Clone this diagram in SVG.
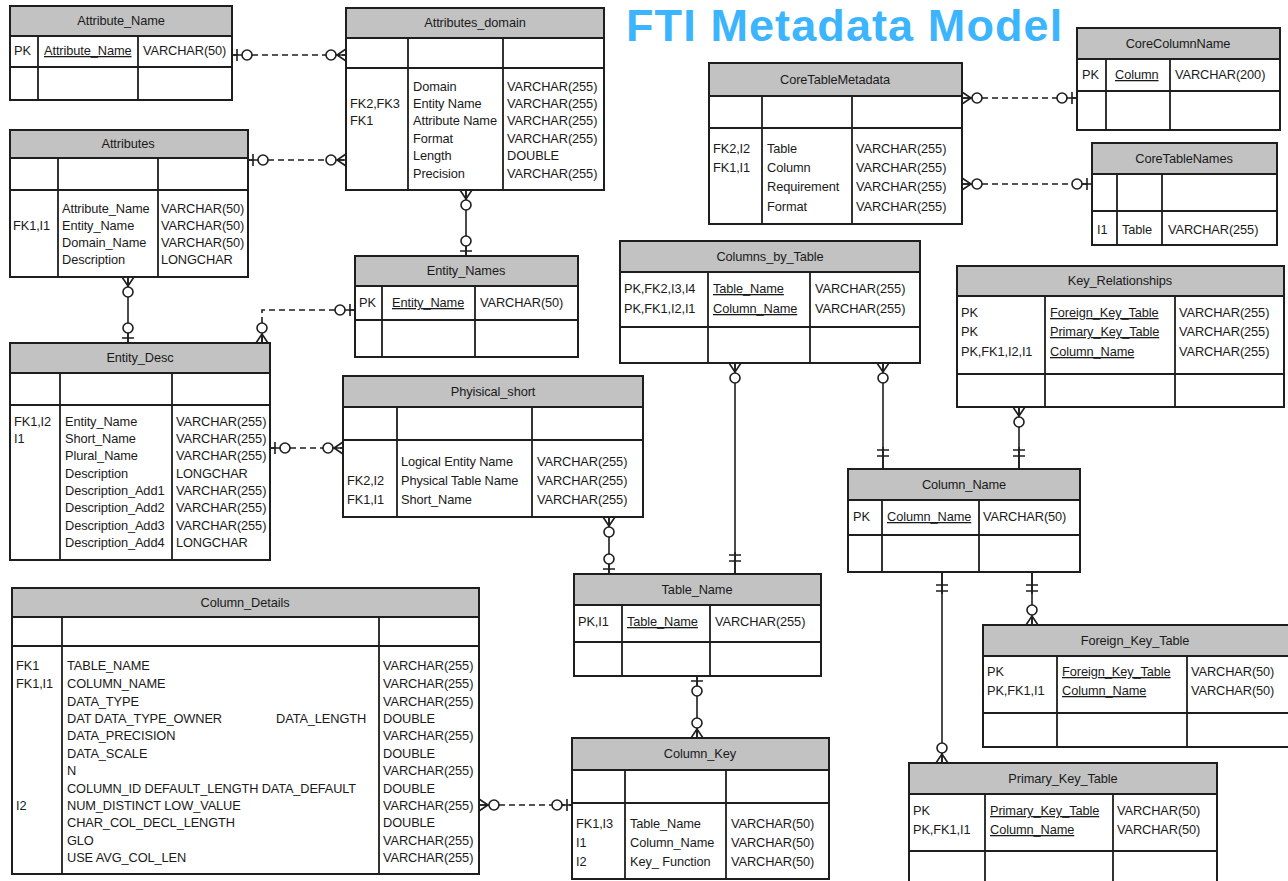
<svg xmlns="http://www.w3.org/2000/svg" xmlns:xlink="http://www.w3.org/1999/xlink" width="1288" height="881" viewBox="0 0 1288 881">
<style>
.bx{fill:#fff;stroke:#1e1e1e;stroke-width:2}
.hd{fill:#c2c2c2;stroke:#1e1e1e;stroke-width:2}
.ln{stroke:#1e1e1e;stroke-width:1.8;fill:none}
text{font-family:"Liberation Sans",Arial,sans-serif;font-size:12.8px;letter-spacing:-0.1px;fill:#1a1a1a}
.ti{text-anchor:middle}
.u{text-decoration:underline}
.c{stroke:#1e1e1e;stroke-width:1.6;fill:none}
.d{stroke-dasharray:6 4}
.title{font-family:"Liberation Sans",Arial,sans-serif;font-weight:bold;font-size:45px;letter-spacing:1.1px;fill:#3cb4fe}
</style>
<defs>
<g id="zo"><path class="c" d="M0,0H15M5,-6V6"/><circle cx="15" cy="0" r="5" fill="#fff" stroke="#1e1e1e" stroke-width="1.6"/></g>
<g id="zm"><path class="c" d="M0,-6L9,0L0,6M0,0H15"/><circle cx="15" cy="0" r="5" fill="#fff" stroke="#1e1e1e" stroke-width="1.6"/></g>
<g id="oo"><path class="c" d="M0,0H22M13,-6V6M19,-6V6"/></g>
</defs>
<rect width="1288" height="881" fill="#fff"/>

<g id="connectors">
<path class="c d" d="M232,55H346"/>
<use href="#zo" transform="translate(232,55)"/>
<use href="#zm" transform="translate(346,55) rotate(180)"/>
<path class="c d" d="M248,160H346"/>
<use href="#zo" transform="translate(248,160)"/>
<use href="#zm" transform="translate(346,160) rotate(180)"/>
<path class="c" d="M466,190V256"/>
<use href="#zm" transform="translate(466,190) rotate(90)"/>
<use href="#zo" transform="translate(466,256) rotate(-90)"/>
<path class="c" d="M128,277V343"/>
<use href="#zm" transform="translate(128,277) rotate(90)"/>
<use href="#zo" transform="translate(128,343) rotate(-90)"/>
<path class="c d" d="M355,310H262V343"/>
<use href="#zo" transform="translate(355,310) rotate(180)"/>
<use href="#zm" transform="translate(262,343) rotate(-90)"/>
<path class="c d" d="M270,448H343"/>
<use href="#zo" transform="translate(270,448)"/>
<use href="#zm" transform="translate(343,448) rotate(180)"/>
<path class="c d" d="M962,98H1077"/>
<use href="#zm" transform="translate(962,98)"/>
<use href="#zo" transform="translate(1077,98) rotate(180)"/>
<path class="c d" d="M962,184H1092"/>
<use href="#zm" transform="translate(962,184)"/>
<use href="#zo" transform="translate(1092,184) rotate(180)"/>
<path class="c" d="M735,363V574"/>
<use href="#zm" transform="translate(735,363) rotate(90)"/>
<use href="#oo" transform="translate(735,574) rotate(-90)"/>
<path class="c" d="M883,363V469"/>
<use href="#zm" transform="translate(883,363) rotate(90)"/>
<use href="#oo" transform="translate(883,469) rotate(-90)"/>
<path class="c" d="M1019,407V469"/>
<use href="#zm" transform="translate(1019,407) rotate(90)"/>
<use href="#oo" transform="translate(1019,469) rotate(-90)"/>
<path class="c" d="M609,517V574"/>
<use href="#zm" transform="translate(609,517) rotate(90)"/>
<use href="#zo" transform="translate(609,574) rotate(-90)"/>
<path class="c" d="M697,676V738"/>
<use href="#zo" transform="translate(697,676) rotate(90)"/>
<use href="#zm" transform="translate(697,738) rotate(-90)"/>
<path class="c d" d="M479,805H572"/>
<use href="#zm" transform="translate(479,805)"/>
<use href="#zo" transform="translate(572,805) rotate(180)"/>
<path class="c" d="M1032,572V625"/>
<use href="#oo" transform="translate(1032,572) rotate(90)"/>
<use href="#zm" transform="translate(1032,625) rotate(-90)"/>
<path class="c" d="M942,572V763"/>
<use href="#oo" transform="translate(942,572) rotate(90)"/>
<use href="#zm" transform="translate(942,763) rotate(-90)"/>
</g>

<g id="title">
<rect x="620" y="0" width="450" height="55" fill="#fff"/>
<text class="title" x="626" y="41">FTI Metadata Model</text>
</g>

<g id="Attribute_Name">
<rect class="bx" x="10" y="6" width="222" height="94"/>
<rect class="hd" x="10" y="6" width="222" height="30"/>
<path class="ln" d="M10,67H232M38,36V100M138,36V100"/>
<text class="ti" x="121" y="25">Attribute_Name</text>
<text x="14" y="55">PK</text>
<text class="u" x="44" y="55">Attribute_Name</text>
<text x="143" y="55">VARCHAR(50)</text>
</g>

<g id="Attributes_domain">
<rect class="bx" x="346" y="8" width="258" height="182"/>
<rect class="hd" x="346" y="8" width="258" height="30"/>
<path class="ln" d="M346,68H604M408,38V190M503,38V190"/>
<text class="ti" x="475" y="27">Attributes_domain</text>
<text x="350" y="108">FK2,FK3</text>
<text x="350" y="125">FK1</text>
<text x="413" y="91">Domain</text>
<text x="413" y="108">Entity Name</text>
<text x="413" y="125">Attribute Name</text>
<text x="413" y="143">Format</text>
<text x="413" y="160">Length</text>
<text x="413" y="178">Precision</text>
<text x="507" y="91">VARCHAR(255)</text>
<text x="507" y="108">VARCHAR(255)</text>
<text x="507" y="125">VARCHAR(255)</text>
<text x="507" y="143">VARCHAR(255)</text>
<text x="507" y="160">DOUBLE</text>
<text x="507" y="178">VARCHAR(255)</text>
</g>

<g id="Attributes">
<rect class="bx" x="10" y="130" width="238" height="147"/>
<rect class="hd" x="10" y="130" width="238" height="28"/>
<path class="ln" d="M10,190H248M58,158V277M158,158V277"/>
<text class="ti" x="128" y="148">Attributes</text>
<text x="13" y="230">FK1,I1</text>
<text x="62" y="213">Attribute_Name</text>
<text x="62" y="230">Entity_Name</text>
<text x="62" y="247">Domain_Name</text>
<text x="62" y="264">Description</text>
<text x="161" y="213">VARCHAR(50)</text>
<text x="161" y="230">VARCHAR(50)</text>
<text x="161" y="247">VARCHAR(50)</text>
<text x="161" y="264">LONGCHAR</text>
</g>

<g id="Entity_Names">
<rect class="bx" x="355" y="256" width="223" height="101"/>
<rect class="hd" x="355" y="256" width="223" height="30"/>
<path class="ln" d="M355,320H578M382,286V357M475,286V357"/>
<text class="ti" x="466" y="275">Entity_Names</text>
<text x="359" y="307">PK</text>
<text class="u" x="392" y="307">Entity_Name</text>
<text x="480" y="307">VARCHAR(50)</text>
</g>

<g id="Entity_Desc">
<rect class="bx" x="10" y="343" width="260" height="217"/>
<rect class="hd" x="10" y="343" width="260" height="30"/>
<path class="ln" d="M10,405H270M60,373V560M172,373V560"/>
<text class="ti" x="140" y="362">Entity_Desc</text>
<text x="14" y="426">FK1,I2</text>
<text x="14" y="443">I1</text>
<text x="65" y="426">Entity_Name</text>
<text x="65" y="443">Short_Name</text>
<text x="65" y="460">Plural_Name</text>
<text x="65" y="478">Description</text>
<text x="65" y="495">Description_Add1</text>
<text x="65" y="512">Description_Add2</text>
<text x="65" y="530">Description_Add3</text>
<text x="65" y="547">Description_Add4</text>
<text x="176" y="426">VARCHAR(255)</text>
<text x="176" y="443">VARCHAR(255)</text>
<text x="176" y="460">VARCHAR(255)</text>
<text x="176" y="478">LONGCHAR</text>
<text x="176" y="495">VARCHAR(255)</text>
<text x="176" y="512">VARCHAR(255)</text>
<text x="176" y="530">VARCHAR(255)</text>
<text x="176" y="547">LONGCHAR</text>
</g>

<g id="Phyisical_short">
<rect class="bx" x="343" y="376" width="300" height="141"/>
<rect class="hd" x="343" y="376" width="300" height="31"/>
<path class="ln" d="M343,440H643M397,407V517M532,407V517"/>
<text class="ti" x="493" y="396">Phyisical_short</text>
<text x="347" y="485">FK2,I2</text>
<text x="347" y="504">FK1,I1</text>
<text x="401" y="466">Logical Entity Name</text>
<text x="401" y="485">Physical Table Name</text>
<text x="401" y="504">Short_Name</text>
<text x="537" y="466">VARCHAR(255)</text>
<text x="537" y="485">VARCHAR(255)</text>
<text x="537" y="504">VARCHAR(255)</text>
</g>

<g id="CoreTableMetadata">
<rect class="bx" x="709" y="63" width="253" height="161"/>
<rect class="hd" x="709" y="63" width="253" height="33"/>
<path class="ln" d="M709,128H962M762,96V224M852,96V224"/>
<text class="ti" x="835" y="84">CoreTableMetadata</text>
<text x="713" y="153">FK2,I2</text>
<text x="713" y="172">FK1,I1</text>
<text x="767" y="153">Table</text>
<text x="767" y="172">Column</text>
<text x="767" y="191">Requirement</text>
<text x="767" y="211">Format</text>
<text x="856" y="153">VARCHAR(255)</text>
<text x="856" y="172">VARCHAR(255)</text>
<text x="856" y="191">VARCHAR(255)</text>
<text x="856" y="211">VARCHAR(255)</text>
</g>

<g id="CoreColumnName">
<rect class="bx" x="1077" y="28" width="203" height="102"/>
<rect class="hd" x="1077" y="28" width="203" height="31"/>
<path class="ln" d="M1077,91H1280M1106,59V130M1170,59V130"/>
<text class="ti" x="1178" y="48">CoreColumnName</text>
<text x="1082" y="79">PK</text>
<text class="u" x="1115" y="79">Column</text>
<text x="1175" y="79">VARCHAR(200)</text>
</g>

<g id="CoreTableNames">
<rect class="bx" x="1092" y="143" width="185" height="102"/>
<rect class="hd" x="1092" y="143" width="185" height="31"/>
<path class="ln" d="M1092,211H1277M1117,174V245M1162,174V245"/>
<text class="ti" x="1184" y="163">CoreTableNames</text>
<text x="1097" y="234">I1</text>
<text x="1122" y="234">Table</text>
<text x="1168" y="234">VARCHAR(255)</text>
</g>

<g id="Columns_by_Table">
<rect class="bx" x="620" y="241" width="300" height="122"/>
<rect class="hd" x="620" y="241" width="300" height="31"/>
<path class="ln" d="M620,327H920M708,272V363M810,272V363"/>
<text class="ti" x="770" y="261">Columns_by_Table</text>
<text x="624" y="293">PK,FK2,I3,I4</text>
<text x="624" y="313">PK,FK1,I2,I1</text>
<text class="u" x="713" y="293">Table_Name</text>
<text class="u" x="713" y="313">Column_Name</text>
<text x="815" y="293">VARCHAR(255)</text>
<text x="815" y="313">VARCHAR(255)</text>
</g>

<g id="Key_Relationships">
<rect class="bx" x="957" y="266" width="327" height="141"/>
<rect class="hd" x="957" y="266" width="327" height="30"/>
<path class="ln" d="M957,374H1284M1045,296V407M1175,296V407"/>
<text class="ti" x="1120" y="285">Key_Relationships</text>
<text x="961" y="317">PK</text>
<text x="961" y="336">PK</text>
<text x="961" y="356">PK,FK1,I2,I1</text>
<text class="u" x="1050" y="317">Foreign_Key_Table</text>
<text class="u" x="1050" y="336">Primary_Key_Table</text>
<text class="u" x="1050" y="356">Column_Name</text>
<text x="1179" y="317">VARCHAR(255)</text>
<text x="1179" y="336">VARCHAR(255)</text>
<text x="1179" y="356">VARCHAR(255)</text>
</g>

<g id="Column_Name">
<rect class="bx" x="848" y="469" width="232" height="103"/>
<rect class="hd" x="848" y="469" width="232" height="31"/>
<path class="ln" d="M848,535H1080M882,500V572M979,500V572"/>
<text class="ti" x="964" y="489">Column_Name</text>
<text x="853" y="521">PK</text>
<text class="u" x="887" y="521">Column_Name</text>
<text x="983" y="521">VARCHAR(50)</text>
</g>

<g id="Table_Name">
<rect class="bx" x="574" y="574" width="247" height="102"/>
<rect class="hd" x="574" y="574" width="247" height="31"/>
<path class="ln" d="M574,642H821M622,605V676M710,605V676"/>
<text class="ti" x="697" y="594">Table_Name</text>
<text x="578" y="626">PK,I1</text>
<text class="u" x="627" y="626">Table_Name</text>
<text x="715" y="626">VARCHAR(255)</text>
</g>

<g id="Column_Details">
<rect class="bx" x="12" y="588" width="467" height="286"/>
<rect class="hd" x="12" y="588" width="467" height="29"/>
<path class="ln" d="M12,646H479M62,617V874M379,617V874"/>
<text class="ti" x="245" y="607">Column_Details</text>
<text x="16" y="670">FK1</text>
<text x="16" y="688">FK1,I1</text>
<text x="16" y="810">I2</text>
<text x="67" y="670">TABLE_NAME</text>
<text x="67" y="688">COLUMN_NAME</text>
<text x="67" y="706">DATA_TYPE</text>
<text x="67" y="723">DAT DATA_TYPE_OWNER</text>
<text x="276" y="723">DATA_LENGTH</text>
<text x="67" y="740">DATA_PRECISION</text>
<text x="67" y="758">DATA_SCALE</text>
<text x="67" y="775">N</text>
<text x="67" y="793" textLength="289" lengthAdjust="spacingAndGlyphs">COLUMN_ID DEFAULT_LENGTH DATA_DEFAULT</text>
<text x="67" y="810">NUM_DISTINCT LOW_VALUE</text>
<text x="67" y="827">CHAR_COL_DECL_LENGTH</text>
<text x="67" y="845">GLO</text>
<text x="67" y="862">USE AVG_COL_LEN</text>
<text x="383" y="670">VARCHAR(255)</text>
<text x="383" y="688">VARCHAR(255)</text>
<text x="383" y="706">VARCHAR(255)</text>
<text x="383" y="723">DOUBLE</text>
<text x="383" y="740">VARCHAR(255)</text>
<text x="383" y="758">DOUBLE</text>
<text x="383" y="775">VARCHAR(255)</text>
<text x="383" y="793">DOUBLE</text>
<text x="383" y="810">VARCHAR(255)</text>
<text x="383" y="827">DOUBLE</text>
<text x="383" y="845">VARCHAR(255)</text>
<text x="383" y="862">VARCHAR(255)</text>
</g>

<g id="Column_Key">
<rect class="bx" x="572" y="738" width="257" height="141"/>
<rect class="hd" x="572" y="738" width="257" height="32"/>
<path class="ln" d="M572,803H829M625,770V879M726,770V879"/>
<text class="ti" x="700" y="758">Column_Key</text>
<text x="576" y="828">FK1,I3</text>
<text x="576" y="847">I1</text>
<text x="576" y="866">I2</text>
<text x="630" y="828">Table_Name</text>
<text x="630" y="847">Column_Name</text>
<text x="630" y="866">Key_ Function</text>
<text x="731" y="828">VARCHAR(50)</text>
<text x="731" y="847">VARCHAR(50)</text>
<text x="731" y="866">VARCHAR(50)</text>
</g>

<g id="Foreign_Key_Table">
<rect class="bx" x="983" y="625" width="310" height="122"/>
<rect class="hd" x="983" y="625" width="310" height="31"/>
<path class="ln" d="M983,713H1293M1057,656V747M1187,656V747"/>
<text class="ti" x="1135" y="645">Foreign_Key_Table</text>
<text x="987" y="676">PK</text>
<text x="987" y="695">PK,FK1,I1</text>
<text class="u" x="1062" y="676">Foreign_Key_Table</text>
<text class="u" x="1062" y="695">Column_Name</text>
<text x="1191" y="676">VARCHAR(50)</text>
<text x="1191" y="695">VARCHAR(50)</text>
</g>

<g id="Primary_Key_Table">
<rect class="bx" x="909" y="763" width="308" height="125"/>
<rect class="hd" x="909" y="763" width="308" height="31"/>
<path class="ln" d="M909,851H1217M985,794V888M1113,794V888"/>
<text class="ti" x="1063" y="783">Primary_Key_Table</text>
<text x="913" y="815">PK</text>
<text x="913" y="834">PK,FK1,I1</text>
<text class="u" x="990" y="815">Primary_Key_Table</text>
<text class="u" x="990" y="834">Column_Name</text>
<text x="1117" y="815">VARCHAR(50)</text>
<text x="1117" y="834">VARCHAR(50)</text>
</g>
</svg>
